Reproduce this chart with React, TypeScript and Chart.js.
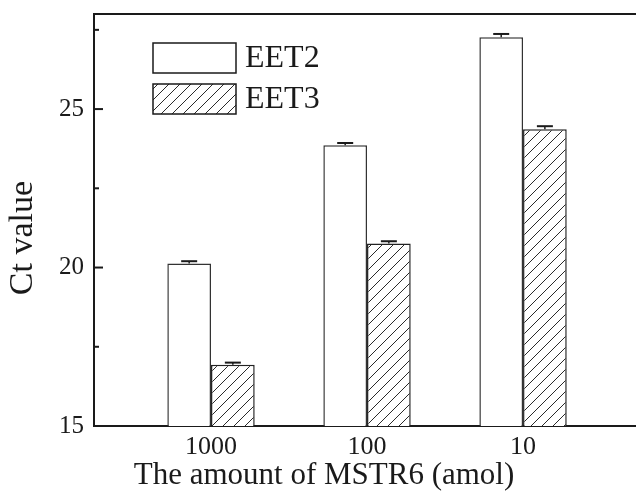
import React, { useEffect, useRef } from "react";
import { Chart, registerables } from "chart.js";

Chart.register(...registerables);

const categories = ["1000", "100", "10"];
const seriesNames = ["EET2", "EET3"];
const eet2Values = [20.13, 23.86, 27.27];
const eet3Values = [16.93, 20.76, 24.36];
const eet2Errors = [0.07, 0.07, 0.1];
const eet3Errors = [0.07, 0.07, 0.1];
const yMajorTicks = [15, 20, 25];
const yMinorTicks = [17.5, 22.5, 27.5];
const xTitle = "The amount of MSTR6 (amol)";
const yTitle = "Ct value";

const FONT = "'Liberation Serif', 'Times New Roman', serif";
const INK = "#1a1a1a";

function makeHatch(): CanvasPattern | string {
  const size = 11;
  const c = document.createElement("canvas");
  c.width = size;
  c.height = size;
  const ctx = c.getContext("2d");
  if (!ctx) return "#fff";
  ctx.fillStyle = "#ffffff";
  ctx.fillRect(0, 0, size, size);
  ctx.strokeStyle = "#2a2a2a";
  ctx.lineWidth = 1;
  ctx.beginPath();
  ctx.moveTo(-1, size + 1);
  ctx.lineTo(size + 1, -1);
  ctx.moveTo(-1, 1);
  ctx.lineTo(1, -1);
  ctx.moveTo(size - 1, size + 1);
  ctx.lineTo(size + 1, size - 1);
  ctx.stroke();
  const p = ctx.createPattern(c, "repeat");
  return p || "#fff";
}

const decorPlugin = {
  id: "decor",
  afterDatasetsDraw(chart: any) {
    const ctx = chart.ctx as CanvasRenderingContext2D;
    const area = chart.chartArea;
    const y = chart.scales.y;
    const errs = [eet2Errors, eet3Errors];
    const vals = [eet2Values, eet3Values];
    ctx.save();
    // error bars (upper only)
    chart.data.datasets.forEach((ds: any, di: number) => {
      const meta = chart.getDatasetMeta(di);
      meta.data.forEach((bar: any, i: number) => {
        const top = y.getPixelForValue(vals[di][i]);
        const hi = y.getPixelForValue(vals[di][i] + errs[di][i]);
        ctx.strokeStyle = INK;
        ctx.lineWidth = 1.5;
        ctx.beginPath();
        ctx.moveTo(bar.x, top);
        ctx.lineTo(bar.x, hi);
        ctx.stroke();
        ctx.lineWidth = 2;
        ctx.beginPath();
        ctx.moveTo(bar.x - 8, hi);
        ctx.lineTo(bar.x + 8, hi);
        ctx.stroke();
      });
    });
    // inward y ticks
    ctx.strokeStyle = INK;
    ctx.lineWidth = 2;
    yMajorTicks.forEach((v) => {
      const py = y.getPixelForValue(v);
      ctx.beginPath();
      ctx.moveTo(area.left, py);
      ctx.lineTo(area.left + 9, py);
      ctx.stroke();
    });
    yMinorTicks.forEach((v) => {
      const py = y.getPixelForValue(v);
      ctx.beginPath();
      ctx.moveTo(area.left, py);
      ctx.lineTo(area.left + 5, py);
      ctx.stroke();
    });
    // top frame line
    ctx.beginPath();
    ctx.moveTo(area.left - 1, area.top);
    ctx.lineTo(area.right, area.top);
    ctx.stroke();
    // legend inside plot
    chart.data.datasets.forEach((ds: any, di: number) => {
      const bx = area.left + 59;
      const by = area.top + 29 + di * 41;
      ctx.fillStyle = ds.backgroundColor;
      ctx.fillRect(bx, by, 83, 30);
      ctx.strokeStyle = INK;
      ctx.lineWidth = 1.5;
      ctx.strokeRect(bx, by, 83, 30);
      ctx.fillStyle = INK;
      ctx.font = `32px ${FONT}`;
      ctx.textAlign = "left";
      ctx.textBaseline = "middle";
      ctx.fillText(ds.label, bx + 92, by + 16);
    });
    // axis titles
    ctx.fillStyle = INK;
    ctx.font = `31px ${FONT}`;
    ctx.textAlign = "center";
    ctx.textBaseline = "middle";
    ctx.fillText(xTitle, 324, 476);
    ctx.font = `34px ${FONT}`;
    ctx.translate(23, 238);
    ctx.rotate(-Math.PI / 2);
    ctx.fillText(yTitle, 0, 0);
    ctx.restore();
  },
};

export default function App() {
  const ref = useRef<HTMLCanvasElement | null>(null);

  useEffect(() => {
    if (!ref.current) return;
    const hatch = makeHatch();
    const chart = new Chart(ref.current, {
      type: "bar",
      data: {
        datasets: [
          {
            label: seriesNames[0],
            data: eet2Values.map((v, i) => ({ x: i, y: v })),
            backgroundColor: "#ffffff",
            borderColor: "#333333",
            borderWidth: 1.5,
          },
          {
            label: seriesNames[1],
            data: eet3Values.map((v, i) => ({ x: i, y: v })),
            backgroundColor: hatch as any,
            borderColor: "#222222",
            borderWidth: 1.5,
          },
        ],
      },
      options: {
        animation: false,
        responsive: false,
        maintainAspectRatio: false,
        layout: { padding: { top: 14, right: 0, left: 0, bottom: 0 } },
        datasets: {
          bar: { categoryPercentage: 0.56, barPercentage: 1 },
        },
        plugins: {
          legend: { display: false },
          tooltip: { enabled: false },
        },
        scales: {
          x: {
            type: "linear",
            min: -0.75,
            max: 2.724,
            offset: false,
            grid: { display: false, drawTicks: false, offset: false },
            border: { display: true, color: INK, width: 2 },
            afterBuildTicks: (scale: any) => {
              scale.ticks = categories.map((_, i) => ({ value: i }));
            },
            afterFit: (scale: any) => {
              scale.height = 70;
              scale.paddingLeft = 0;
              scale.paddingRight = 0;
            },
            ticks: {
              callback: (v: any) => categories[Number(v)] ?? "",
              color: INK,
              font: { family: FONT, size: 26 },
              padding: 6,
              maxRotation: 0,
              autoSkip: false,
            },
          },
          y: {
            min: 15,
            max: 28,
            grid: { display: false, drawTicks: false },
            border: { display: true, color: INK, width: 2 },
            afterBuildTicks: (scale: any) => {
              scale.ticks = yMajorTicks.map((v) => ({ value: v }));
            },
            afterFit: (scale: any) => {
              scale.width = 94;
              scale.paddingTop = 0;
              scale.paddingBottom = 0;
            },
            ticks: {
              color: INK,
              font: { family: FONT, size: 25 },
              padding: 10,
            },
          },
        },
      },
      plugins: [decorPlugin],
    } as any);
    return () => chart.destroy();
  }, []);

  return (
    <div style={{ position: "absolute", left: 0, top: 0, width: 636, height: 496, background: "#fff" }}>
      <canvas ref={ref} width={636} height={496} />
    </div>
  );
}
